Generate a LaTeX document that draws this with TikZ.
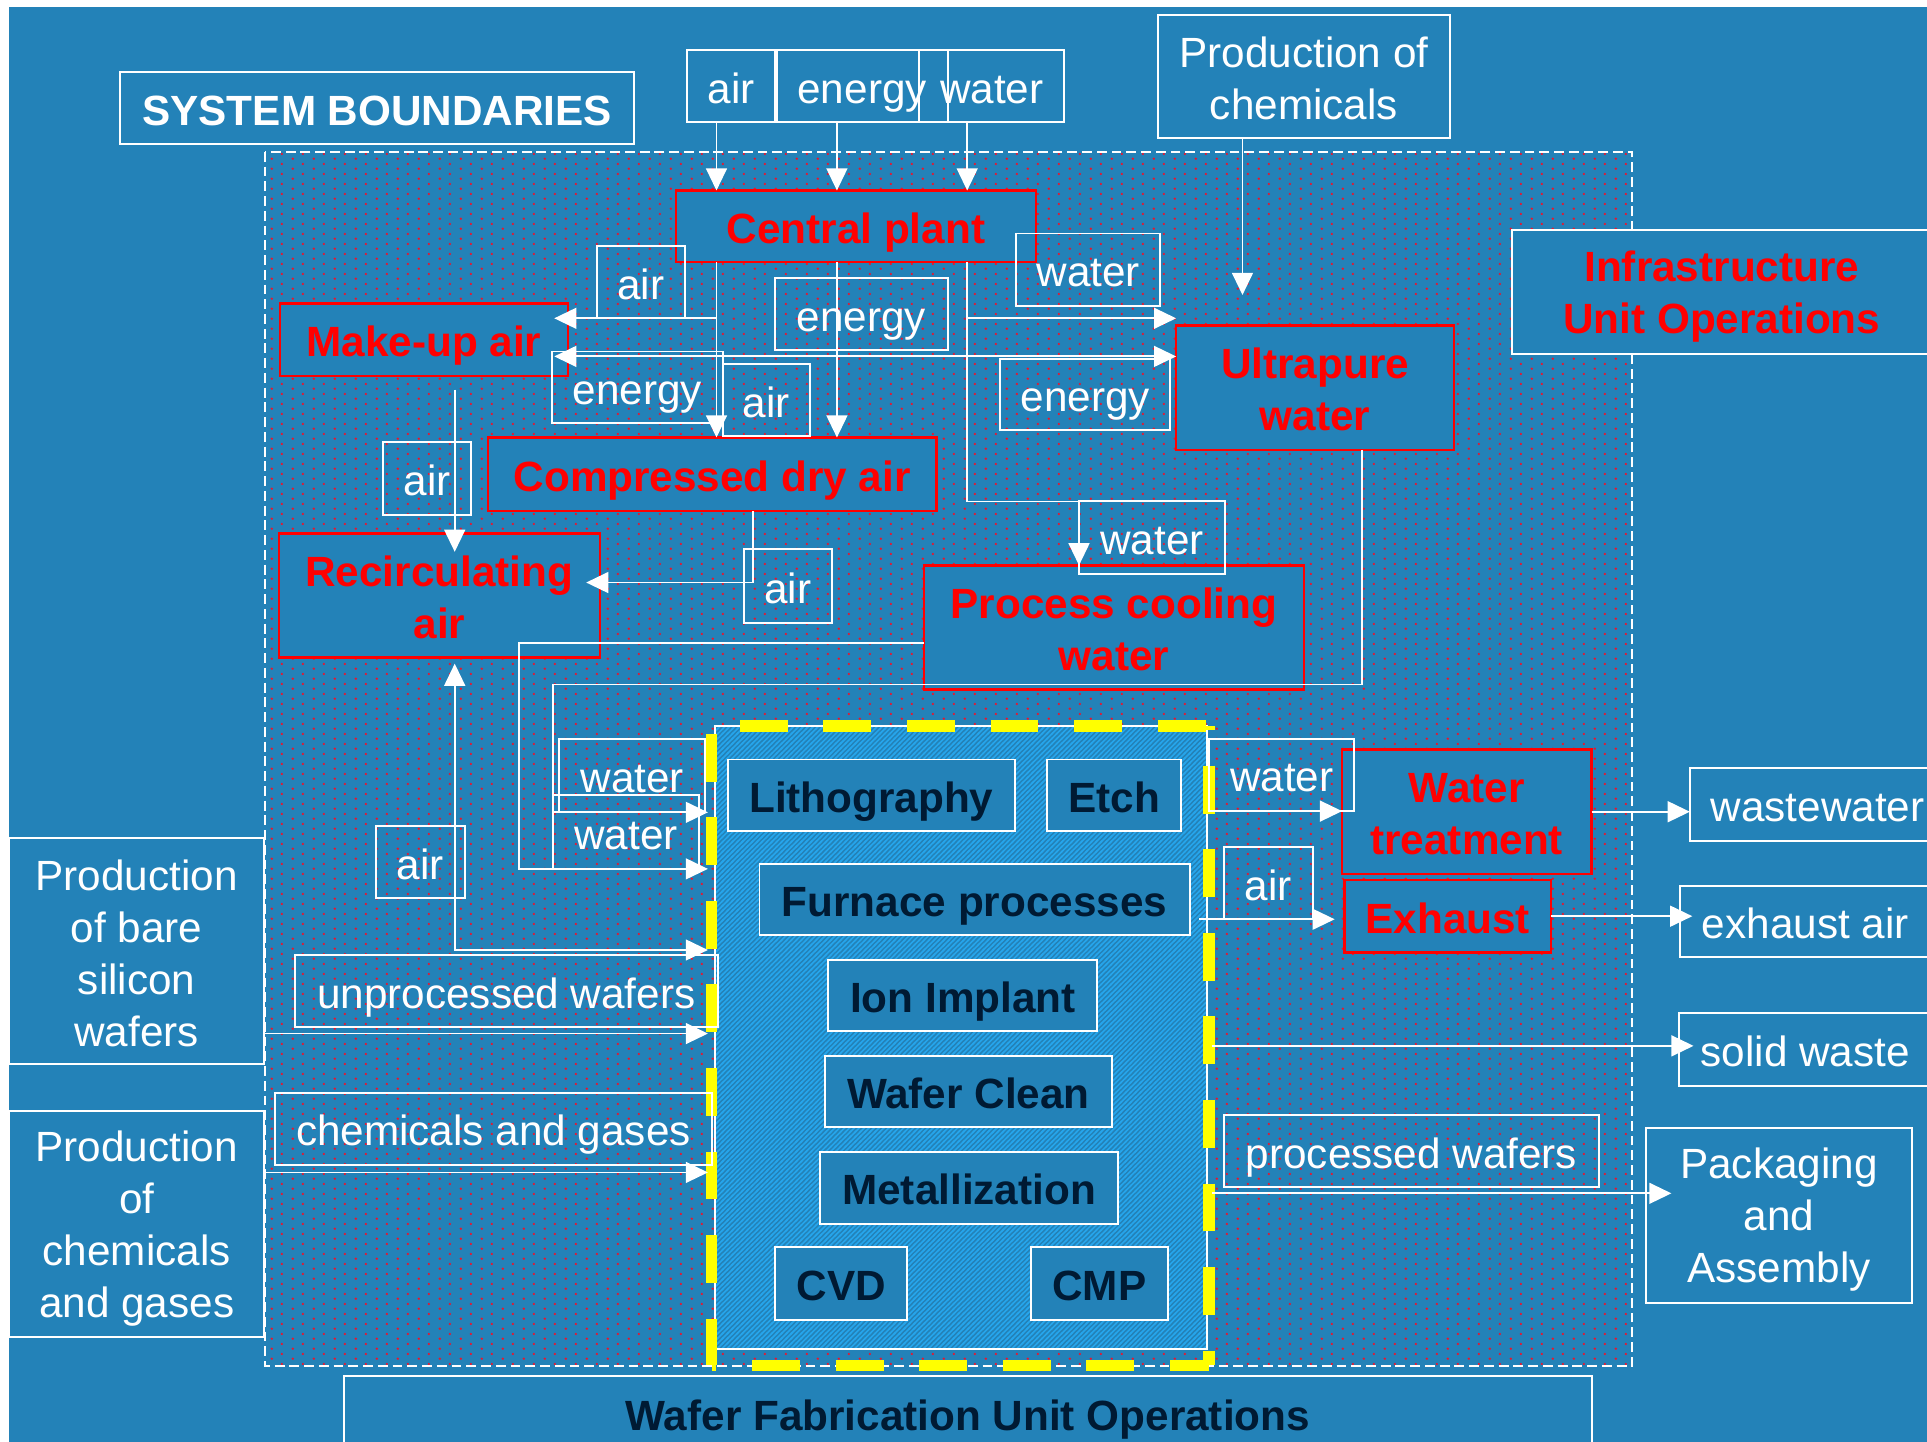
\documentclass[tikz,border=0pt]{standalone}
\usepackage{fontspec}
\setmainfont{Liberation Sans}
\usetikzlibrary{calc, positioning, arrows.meta, patterns}

\definecolor{fundo}{RGB}{35,130,184}
\definecolor{marinho}{RGB}{0,26,51}
\definecolor{listra}{RGB}{38,165,235}
\definecolor{amarelo}{RGB}{255,255,0}
\definecolor{ponto}{RGB}{235,20,45}

\newcommand{\fonte}{\fontsize{34.4}{42.3}\selectfont}
\newcommand{\esc}{\rule[-4.3pt]{0pt}{36.4pt}}

% pontinhos vermelhos da fronteira do sistema
\pgfdeclarepatternformonly{pontos}{\pgfpointorigin}{\pgfqpoint{16.7pt}{8.3pt}}{\pgfqpoint{16.7pt}{8.3pt}}{%
  \pgfpathcircle{\pgfqpoint{4pt}{2pt}}{1.1pt}%
  \pgfpathcircle{\pgfqpoint{12.35pt}{6.15pt}}{1.1pt}%
  \pgfusepath{fill}}
% listras da area de fabricacao
\pgfdeclarepatternformonly{listras}{\pgfqpoint{-1pt}{-1pt}}{\pgfqpoint{5pt}{5pt}}{\pgfqpoint{4pt}{4pt}}{%
  \pgfsetlinewidth{1.3pt}%
  \pgfpathmoveto{\pgfqpoint{-1pt}{-1pt}}%
  \pgfpathlineto{\pgfqpoint{5pt}{5pt}}%
  \pgfusepath{stroke}}

\begin{document}
\begin{tikzpicture}[
    x=1pt, y=-1pt,
    caixa/.style 2 args={minimum width=#1pt, minimum height=#2pt, inner sep=0pt, outer sep=0pt},
    umalinha/.style={text height=32.1pt, text depth=4.3pt},
    rotulo/.style={draw=white, line width=1.6pt, text=white, font=\fonte, umalinha},
    externo/.style={draw=white, line width=1.6pt, fill=fundo, text=white, font=\fonte},
    titulo/.style={draw=white, line width=1.6pt, fill=fundo, text=white, font={\fonte\bfseries}, umalinha},
    utilidade/.style={draw=red, line width=2pt, fill=fundo, text=red, font={\fonte\bfseries}},
    fabop/.style={draw=white, line width=1.6pt, fill=fundo, text=marinho, font={\fonte\bfseries}, umalinha},
    fabarea/.style={draw=white, line width=1.5pt, preaction={fill=fundo}, pattern=listras, pattern color=listra},
    tracejado/.style={amarelo, line width=9.5pt, dash pattern=on 39pt off 29pt},
    seta/.style={white, line width=1.5pt, -{Triangle[length=18pt, width=17pt]}},
    setadupla/.style={white, line width=1.5pt, {Triangle[length=18pt, width=17pt]}-{Triangle[length=18pt, width=17pt]}}
]

    % 1. Fundo e fronteira do sistema
    \useasboundingbox (0,0) rectangle (1568,1173);
    \fill[white] (0,0) rectangle (1568,1173);
    \fill[fundo] (7,5.5) rectangle (1568,1173);
    \fill[pattern=pontos, pattern color=ponto] (215.5,123.5) rectangle (1328,1111.5);
    \draw[white, line width=1.6pt, dash pattern=on 8pt off 4pt] (215.5,123.5) rectangle (1328,1111.5);

    % 2. Area de fabricacao (listrada, borda amarela)
    \node[fabarea, caixa={400}{507}] (fab) at (782,844.5) {};
    \draw[tracejado, dash phase=45pt] (579,591) -- (984,591);
    \draw[tracejado, dash phase=62pt] (579,591) -- (579,1111);
    \draw[tracejado, dash phase=35pt] (579,1111) -- (984,1111);
    \draw[tracejado, dash phase=36pt] (984,591) -- (984,1111);

    % 3. Operacoes de fabricacao
    \node[fabop, caixa={234}{58}] (lito) at (709,647) {Lithography};
    \node[fabop, caixa={109}{58}] (etch) at (906.5,647) {Etch};
    \node[fabop, caixa={350}{58}] (forno) at (793,732) {Furnace processes};
    \node[fabop, caixa={219}{58}] (ion) at (783.5,810) {Ion Implant};
    \node[fabop, caixa={234}{58}] (limpeza) at (788,888) {Wafer Clean};
    \node[fabop, caixa={243}{59}] (metal) at (788.5,966.5) {Metallization};
    \node[fabop, caixa={107}{59}] (cvd) at (684.5,1044.5) {CVD};
    \node[fabop, caixa={111}{59}] (cmp) at (894.5,1044.5) {CMP};

    % 4. Titulos
    \node[titulo, caixa={418}{59}] (fronteira) at (307,88) {SYSTEM BOUNDARIES};
    \node[externo, text=red, font={\fonte\bfseries}, align=center, caixa={342}{101}] (infraOp) at (1401,237.5) {\esc Infrastructure\\Unit Operations\esc};
    \node[externo, text=marinho, font={\fonte\bfseries}, umalinha, caixa={1015}{60}] (waferFab) at (787.5,1150) {Wafer Fabrication Unit Operations};

    % 5. Operacoes de infraestrutura
    \node[utilidade, umalinha, caixa={293}{58}] (central) at (696.5,184) {Central plant};
    \node[utilidade, umalinha, caixa={234}{59}] (makeup) at (345,276.5) {Make-up air};
    \node[utilidade, umalinha, caixa={365}{60}] (ares) at (579.5,386) {Compressed dry air};
    \node[utilidade, align=center, caixa={261}{101}] (recirc) at (357.5,484.5) {\esc Recirculating\\air\esc};
    \node[utilidade, align=center, caixa={226}{101}] (upw) at (1070,315.5) {\esc Ultrapure\\water\esc};
    \node[utilidade, align=center, caixa={309}{101}] (pcw) at (906.5,510.5) {\esc Process cooling\\water\esc};
    \node[utilidade, align=center, caixa={203}{101}] (tratAgua) at (1193.5,660.5) {\esc Water\\treatment\esc};
    \node[utilidade, umalinha, caixa={168}{59}] (exaustao) at (1178,745.5) {Exhaust};

    % 6. Entradas e saidas externas
    \node[rotulo, caixa={72}{58}] (arTopo) at (595,70) {air};
    \node[rotulo, caixa={139}{58}] (energiaTopo) at (701.5,70) {energy};
    \node[rotulo, caixa={118}{58}] (aguaTopo) at (807,70) {water};
    \node[externo, align=center, caixa={238}{100}] (prodQuim) at (1061,62) {\esc Production of\\chemicals\esc};
    \node[externo, align=center, caixa={207.5}{184}] (prodSi) at (111.25,774) {\esc Production\\of bare\\silicon\\wafers\esc};
    \node[externo, align=center, caixa={207.5}{184}] (prodQG) at (111.25,996) {\esc Production\\of\\chemicals\\and gases\esc};
    \node[externo, umalinha, caixa={208}{59}] (efluente) at (1479,654.5) {wastewater};
    \node[externo, umalinha, caixa={204}{58}] (arExaustao) at (1469,750) {exhaust air};
    \node[externo, umalinha, caixa={206}{60}] (residuo) at (1469,854) {solid waste};
    \node[externo, align=center, caixa={217}{142}] (embalagem) at (1447.5,989) {\esc Packaging\\and\\Assembly\esc};

    % 7. Rotulos dos fluxos
    \node[rotulo, caixa={71}{59}] (ar1) at (521.5,229.5) {air};
    \node[rotulo, caixa={140}{59}] (en1) at (701,255.5) {energy};
    \node[rotulo, caixa={117}{59}] (ag1) at (885.5,219.5) {water};
    \node[rotulo, caixa={139}{58}] (en2) at (518.5,315) {energy};
    \node[rotulo, caixa={71}{59}] (ar2) at (623.5,325.5) {air};
    \node[rotulo, caixa={138}{58}] (en3) at (883,321) {energy};
    \node[rotulo, caixa={71}{59}] (ar3) at (347.5,389.5) {air};
    \node[rotulo, caixa={72}{60}] (ar4) at (641,477) {air};
    \node[rotulo, caixa={119}{59}] (ag2) at (937.5,437.5) {water};
    \node[rotulo, caixa={119}{60}] (ag3) at (514.5,631) {water};
    \node[rotulo, caixa={119}{60}] (ag4) at (509.5,677) {water};
    \node[rotulo, caixa={72}{59}] (ar5) at (342,701.5) {air};
    \node[rotulo, caixa={344}{59}] (bolachas) at (412,806.5) {unprocessed wafers};
    \node[rotulo, caixa={355}{59}] (quimGases) at (401.5,918.5) {chemicals and gases};
    \node[rotulo, caixa={118}{59}] (ag5) at (1043,630.5) {water};
    \node[rotulo, caixa={72}{59}] (ar6) at (1032,718.5) {air};
    \node[rotulo, caixa={305}{59}] (processadas) at (1148.5,936.5) {processed wafers};

    % 8. Colunas e linhas das setas
    \coordinate (colAr) at (583,0);
    \coordinate (colEn) at (681,0);
    \coordinate (colAg) at (787,0);
    \coordinate (colQu) at (1011,0);
    \coordinate (fimQu) at (1011,240);
    \coordinate (linEn) at (0,290);
    \coordinate (colPcw) at (878,0);
    \coordinate (colRe) at (370,0);
    \coordinate (colAs) at (613,0);
    \coordinate (linAs) at (0,474);
    \coordinate (linRe) at (0,773);
    \coordinate (entFab) at (576,0);
    \coordinate (colUp) at (1108,0);
    \coordinate (linUp) at (0,557);
    \coordinate (colUp2) at (450,0);
    \coordinate (linPc) at (0,523);
    \coordinate (colPc) at (422,0);
    \coordinate (linSi) at (0,841);
    \coordinate (linQG) at (0,954);
    \coordinate (saiFab) at (986,0);
    \coordinate (linRs) at (0,851);
    \coordinate (linPw) at (0,971);

    % 9. Entradas da central
    \draw[seta] (colAr |- arTopo.south) -- (colAr |- central.north);
    \draw[seta] (colEn |- arTopo.south) -- (colEn |- central.north);
    \draw[seta] (colAg |- arTopo.south) -- (colAg |- central.north);
    \draw[seta] (colQu |- prodQuim.south) -- (fimQu);

    % 10. Distribuicao de ar, energia e agua
    \draw[seta] (colAr |- central.south) -- (colAr |- ares.north);
    \draw[seta, shorten >=-11pt] (colAr |- ar1.south) -- (makeup.east |- ar1.south);
    \draw[seta] (colEn |- central.south) -- (colEn |- ares.north);
    \draw[seta, shorten >=-11pt] (colEn |- linEn) -- (makeup.east |- linEn);
    \draw[seta] (colEn |- linEn) -- (upw.west |- linEn);
    \draw[seta] (colAg |- central.south) |- (colPcw |- ag2.north) -- (colPcw |- pcw.north);
    \draw[seta] (colAg |- ar1.south) -- (upw.west |- ar1.south);

    % 11. Ar recirculado
    \draw[seta] ([yshift=-11pt]colRe |- makeup.south) -- ([yshift=-15pt]colRe |- recirc.north);
    \draw[seta] (colAs |- ares.south) |- ([xshift=-11pt]recirc.east |- linAs);
    \draw[setadupla] ([yshift=-5pt]colRe |- recirc.south) |- (entFab |- linRe);

    % 12. Agua para a fabricacao
    \draw[seta] (colUp |- upw.south) -- (colUp |- linUp) -| (colUp2 |- ag3.south) -- (entFab |- ag3.south);
    \draw[seta] (pcw.west |- linPc) -| (colPc |- ag4.south) -- (entFab |- ag4.south);

    % 13. Bolachas e quimicos
    \draw[seta] (prodSi.east |- linSi) -- (entFab |- linSi);
    \draw[seta] (prodQG.east |- linQG) -- (entFab |- linQG);

    % 14. Saidas
    \draw[seta] (saiFab |- ag5.south) -- (tratAgua.west |- ag5.south);
    \draw[seta, shorten >=8pt] ([xshift=-10pt]saiFab |- ar6.south) -- (exaustao.west |- ar6.south);
    \draw[seta] (tratAgua.east) -- (efluente.west |- tratAgua.east);
    \draw[seta, shorten >=-10pt] (exaustao.east) -- (arExaustao.west |- exaustao.east);
    \draw[seta, shorten >=-12pt] (saiFab |- linRs) -- (residuo.west |- linRs);
    \draw[seta, shorten >=-21pt] (saiFab |- linPw) -- (embalagem.west |- linPw);

\end{tikzpicture}
\end{document}
